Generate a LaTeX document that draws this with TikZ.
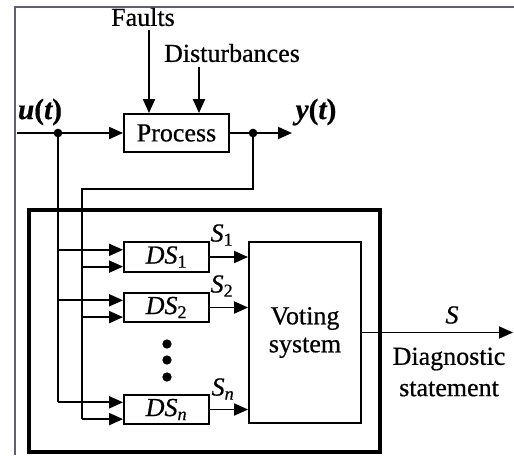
\documentclass[tikz,border=0pt]{standalone}
\usepackage{fontspec}
\setmainfont{Liberation Serif}[FakeBold=0.6]
\usetikzlibrary{arrows.meta}
\definecolor{framecol}{RGB}{95,95,115}
\begin{document}
\begin{tikzpicture}[x=0.75pt,y=-0.75pt,
  line width=1.4pt,
  arr/.style={-{Triangle[length=10.5pt,width=9pt]}},
  blk/.style={draw, line width=1.4pt, inner sep=0pt, font=\fontsize{19.5}{20}\selectfont},
  lbl/.style={inner sep=0pt, font=\fontsize{19.5}{23.5}\selectfont},
  dotn/.style={circle, fill, inner sep=0pt, minimum size=6.5pt}]
\useasboundingbox (0,0) rectangle (514,455);
\draw[line width=0.8pt, framecol] (15,455) -- (15,7) -- (514,7);
% outer thick box
\node[draw, line width=3pt, minimum width=263.25pt, minimum height=181.5pt, inner sep=0pt] (outer) at (204,330.5) {};
% blocks
\node[blk, minimum width=78.75pt, minimum height=28.5pt] (process) at (176.5,133) {Process};
\node[blk, minimum width=63.75pt, minimum height=22pt] (ds1) at (166.5,257) {\textit{DS}\textsubscript{1}};
\node[blk, minimum width=63.75pt, minimum height=22pt] (ds2) at (166.5,307.5) {\textit{DS}\textsubscript{2}};
\node[blk, minimum width=63.75pt, minimum height=22pt] (dsn) at (166.5,409.5) {\textit{DS}\textsubscript{\textit{n}}};
\node[blk, minimum width=84pt, minimum height=135.75pt, align=center, font=\fontsize{19.5}{21}\selectfont] (vote) at (305,332.5) {Voting\\system};
% labels
\node[lbl] (faults) at (143,17) {Faults};
\node[lbl] (dist) at (232,53) {Disturbances};
\node[lbl, font=\fontsize{22}{24}\selectfont] (ulab) at (40,112) {\bfseries\itshape u\upshape(\itshape t\upshape)};
\node[lbl, font=\fontsize{22}{24}\selectfont] (ylab) at (316,112) {\bfseries\itshape y\upshape(\itshape t\upshape)};
\node[lbl] (s1) at (222,235) {\textit{S}\textsubscript{1}};
\node[lbl] (s2) at (222,286) {\textit{S}\textsubscript{2}};
\node[lbl] (sn) at (223,389) {\textit{S}\textsubscript{\textit{n}}};
\node[lbl] (slab) at (452,315) {\textit{S}};
\node[lbl, align=center] (diag) at (449,372) {Diagnostic\\statement};
% disturbance arrows
\coordinate (fa) at (149,30);
\coordinate (da) at (199,67);
\draw[arr] (fa) -- (fa |- process.north);
\draw[arr] (da) -- (da |- process.north);
% main line
\coordinate (uin) at (17,133);
\coordinate (uj) at (58,133);
\coordinate (yj) at (253,133);
\coordinate (yend) at (292,133);
\draw[arr] (uin) -- (process.west);
\draw[arr] (process.east) -- (yend);
\node[dotn] (ujd) at (uj) {};
\node[dotn] (yjd) at (yj) {};
% feedback
\coordinate (fb1) at (253,189);
\coordinate (fb2) at (82,189);
% DS inputs
\coordinate (i1a) at ([yshift=5.4pt]ds1.west);
\coordinate (i1b) at ([yshift=-7.2pt]ds1.west);
\coordinate (i2a) at ([yshift=5.4pt]ds2.west);
\coordinate (i2b) at ([yshift=-7.2pt]ds2.west);
\coordinate (ina) at ([yshift=5.4pt]dsn.west);
\coordinate (inb) at ([yshift=-7.2pt]dsn.west);
\draw (uj) -- (ina -| uj);
\draw (yj) -- (fb1) -- (fb2) -- (inb -| fb2);
\draw[arr] (i1a -| uj) -- (i1a);
\draw[arr] (i2a -| uj) -- (i2a);
\draw[arr] (ina -| uj) -- (ina);
\draw[arr] (i1b -| fb2) -- (i1b);
\draw[arr] (i2b -| fb2) -- (i2b);
\draw[arr] (inb -| fb2) -- (inb);
% DS outputs
\draw[arr] (ds1.east) -- (ds1.east -| vote.west);
\draw[arr] (ds2.east) -- (ds2.east -| vote.west);
\draw[arr] (dsn.east) -- (dsn.east -| vote.west);
% dots
\node[dotn, minimum size=7pt] (d1) at (167,344) {};
\node[dotn, minimum size=7pt] (d2) at (167,360) {};
\node[dotn, minimum size=7pt] (d3) at (167,377) {};
% output
\coordinate (send) at (513,332.5);
\draw[arr] (vote.east) -- (send);
\end{tikzpicture}
\end{document}
